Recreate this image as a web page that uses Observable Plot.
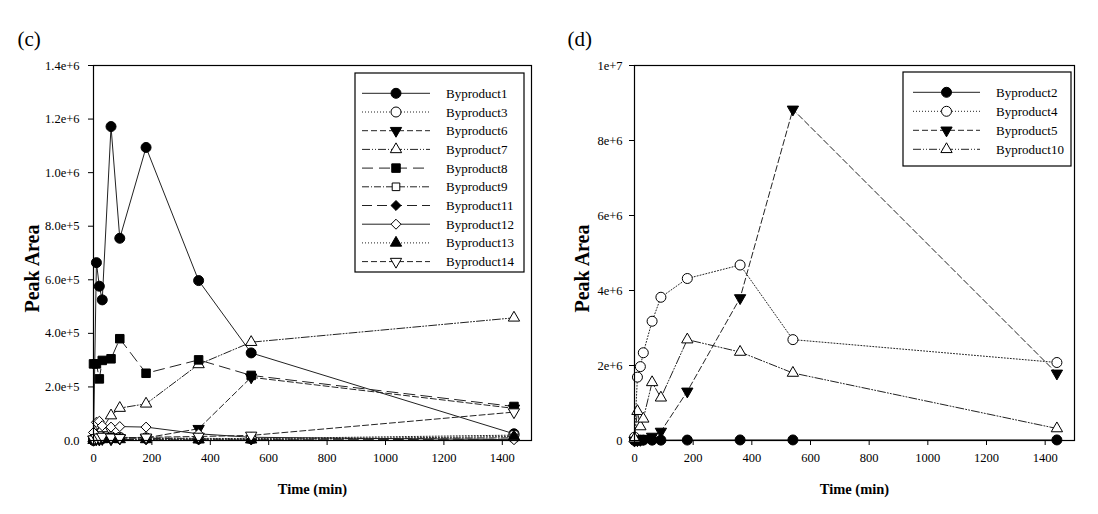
<!DOCTYPE html>
<html><head><meta charset="utf-8">
<script src="https://cdn.jsdelivr.net/npm/d3@7"></script>
<script src="https://cdn.jsdelivr.net/npm/@observablehq/plot@0.6"></script>
<style>
body{margin:0;background:#fff;}
#wrap{display:flex;width:1098px;height:514px;}
</style></head><body><div id="wrap"></div>
<script>
// ---- data ----
const times = [0, 10, 20, 30, 60, 90, 180, 360, 540, 1440];
const xTicks = [0, 200, 400, 600, 800, 1000, 1200, 1400];
const yTicksC = [0, 2e5, 4e5, 6e5, 8e5, 1e6, 1.2e6, 1.4e6];
const yTicksD = [0, 2e6, 4e6, 6e6, 8e6, 1e7];

const namesC = ["Byproduct1","Byproduct3","Byproduct6","Byproduct7","Byproduct8","Byproduct9","Byproduct11","Byproduct12","Byproduct13","Byproduct14"];
const byproduct1  = [0, 664000, 576000, 525000, 1172000, 755000, 1094000, 597000, 327000, 25000];
const byproduct3  = [5000, 8000, 10000, 12000, 14000, 12000, 10000, 8000, 7000, 20000];
const byproduct6  = [3000, 5000, 4000, 6000, 5000, 8000, 10000, 44000, 236000, 120000];
const byproduct7  = [8000, 20000, 30000, 45000, 93000, 121000, 137000, 284000, 367000, 458000];
const byproduct8  = [286000, 286000, 230000, 299000, 305000, 380000, 251000, 301000, 243000, 127000];
const byproduct9  = [3000, 6000, 8000, 10000, 12000, 10000, 8000, 6000, 5000, 10000];
const byproduct11 = [2000, 4000, 5000, 6000, 5000, 4000, 3000, 2000, 2000, 5000];
const byproduct12 = [30000, 68000, 72000, 55000, 50000, 52000, 50000, 25000, 12000, 3000];
const byproduct13 = [1000, 2000, 3000, 4000, 5000, 4000, 4000, 3000, 3000, 15000];
const byproduct14 = [5000, 10000, 12000, 15000, 12000, 10000, 12000, 15000, 19000, 106000];
const valuesC = [byproduct1, byproduct3, byproduct6, byproduct7, byproduct8, byproduct9, byproduct11, byproduct12, byproduct13, byproduct14];

const namesD = ["Byproduct2","Byproduct4","Byproduct5","Byproduct10"];
const byproduct2  = [0, 5000, 8000, 10000, 10000, 10000, 12000, 15000, 15000, 15000];
const byproduct4  = [88000, 1690000, 1970000, 2340000, 3180000, 3820000, 4320000, 4680000, 2690000, 2080000];
const byproduct5  = [0, 10000, 20000, 50000, 107000, 240000, 1310000, 3800000, 8830000, 1790000];
const byproduct10 = [50000, 781000, 373000, 578000, 1550000, 1140000, 2690000, 2360000, 1800000, 320000];
const valuesD = [byproduct2, byproduct4, byproduct5, byproduct10];

// ---- styles ----
const triDown = {
  draw(ctx, size) {
    const y = -Math.sqrt(size / (Math.sqrt(3) * 3));
    ctx.moveTo(0, -y * 2);
    ctx.lineTo(-Math.sqrt(3) * y, y);
    ctx.lineTo(Math.sqrt(3) * y, y);
    ctx.closePath();
  }
};
const SYM = {circle: d3.symbolCircle, triangle: d3.symbolTriangle, square: d3.symbolSquare, diamond2: d3.symbolDiamond2};
const st = (symbol, filled, dash, r) => ({symbol, filled, dash, r});
const stylesC = [
  st("circle", true, null, 5),
  st("circle", false, "1,2", 5),
  st(triDown, true, "6,3", 4.2),
  st("triangle", false, "8,2,1,2,1,2", 4.2),
  st("square", true, "11,6", 4.8),
  st("square", false, "7,2,1,2", 4.3),
  st("diamond2", true, "10,5", 4.5),
  st("diamond2", false, null, 4.5),
  st("triangle", true, "1,2", 4.2),
  st(triDown, false, "6,3", 4.2)
];
const stylesD = [
  st("circle", true, null, 5),
  st("circle", false, "1,2", 5),
  st(triDown, true, "6,3", 4.2),
  st("triangle", false, "8,2,1,2,1,2", 4.2)
];

const FONT = "Liberation Serif, Times New Roman, serif";

function panel(opt) {
  const marks = [];
  const rows = opt.names.map((n, i) => times.map((t, j) => ({name: n, t, v: opt.values[i][j]})));
  rows.forEach((r, i) => {
    const s = opt.styles[i];
    marks.push(Plot.line(r, {x: "t", y: "v", stroke: "#222", strokeWidth: 1, strokeDasharray: s.dash}));
  });
  rows.forEach((r, i) => {
    const s = opt.styles[i];
    marks.push(Plot.dot(r, {x: "t", y: "v", symbol: s.symbol, r: s.r, fill: s.filled ? "black" : "white", stroke: "black", strokeWidth: 1}));
  });
  marks.push(Plot.frame({stroke: "black", strokeWidth: 1.2}));
  marks.push(Plot.axisX({ticks: xTicks, tickSize: 5, tickPadding: 8, fontSize: 12.5, label: null, tickFormat: d => String(d)}));
  marks.push(Plot.axisY({ticks: opt.yTicks, tickSize: 5, tickPadding: opt.yPad, fontSize: 12.5, label: null, tickFormat: opt.fmt}));
  marks.push(Plot.text(["Time (min)"], {frameAnchor: "bottom", dy: 53, fontWeight: "bold", fontSize: 14.5}));
  marks.push(Plot.text(["Peak Area"], {frameAnchor: "top-left", textAnchor: "middle", lineAnchor: "middle", rotate: -90, dx: opt.labDx, dy: 203, fontWeight: "bold", fontSize: 20}));
  marks.push(Plot.text([opt.tag], {frameAnchor: "top-left", dx: opt.tagDx, dy: -34, textAnchor: "start", fontSize: 21}));
  const svg = Plot.plot({
    width: 549, height: 514,
    marginLeft: opt.ml, marginRight: opt.mr, marginTop: 65, marginBottom: 74,
    style: {fontFamily: FONT, fontSize: "12px", background: "white", color: "black"},
    x: {domain: [0, 1500]},
    y: {domain: opt.yDomain},
    marks
  });
  // legend
  const L = opt.legend;
  const g = d3.select(svg).append("g");
  g.append("rect").attr("x", L.x0).attr("y", L.y0).attr("width", L.x1 - L.x0).attr("height", L.y1 - L.y0)
    .attr("fill", "white").attr("stroke", "black").attr("stroke-width", 1.2);
  opt.names.forEach((n, i) => {
    const s = opt.styles[i];
    const y = L.ey + i * L.step;
    g.append("line").attr("x1", L.lx0).attr("x2", L.lx1).attr("y1", y).attr("y2", y)
      .attr("stroke", "#222").attr("stroke-width", 1).attr("stroke-dasharray", s.dash);
    const type = typeof s.symbol === "string" ? SYM[s.symbol] : s.symbol;
    g.append("path").attr("d", d3.symbol(type, s.r * s.r * Math.PI)())
      .attr("transform", `translate(${(L.lx0 + L.lx1) / 2},${y})`)
      .attr("fill", s.filled ? "black" : "white").attr("stroke", "black").attr("stroke-width", 1);
    g.append("text").attr("x", L.tx).attr("y", y).attr("dy", "0.35em").attr("text-anchor", "start")
      .attr("font-family", FONT).style("font-size", "13px").attr("fill", "black").text(n);
  });
  return svg;
}

const wrap = document.getElementById("wrap");
wrap.appendChild(panel({
  names: namesC, values: valuesC, styles: stylesC, yDomain: [0, 1.4e6], yTicks: yTicksC,
  fmt: d => d === 0 ? "0.0" : d3.format(".1e")(d), ml: 93, mr: 18, yPad: 9, labDx: -61, tag: "(c)", tagDx: -76,
  legend: {x0: 355, x1: 524, y0: 73, y1: 272, ey: 93.3, step: 18.7, lx0: 362, lx1: 430, tx: 446}
}));
wrap.appendChild(panel({
  names: namesD, values: valuesD, styles: stylesD, yDomain: [0, 1e7], yTicks: yTicksD,
  fmt: d => d === 0 ? "0" : d3.format(".0e")(d), ml: 85, mr: 24, yPad: 7, labDx: -52, tag: "(d)", tagDx: -67,
  legend: {x0: 354, x1: 522, y0: 72, y1: 166, ey: 92.3, step: 19, lx0: 364, lx1: 431, tx: 447}
}));
</script></body></html>
